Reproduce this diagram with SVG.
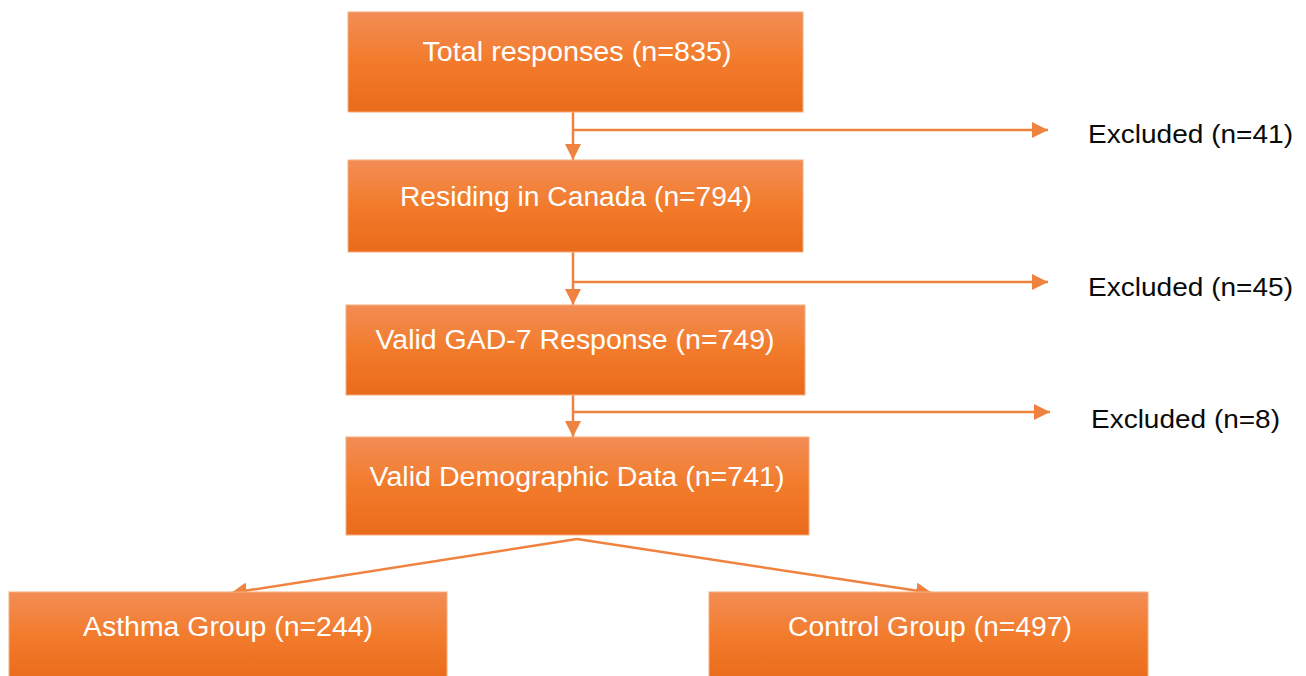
<svg xmlns="http://www.w3.org/2000/svg" width="1306" height="676" viewBox="0 0 1306 676">
  <defs>
    <linearGradient id="boxFill" x1="0" y1="0" x2="0" y2="1">
      <stop offset="0" stop-color="#f28d55"/>
      <stop offset="0.5" stop-color="#f27b2b"/>
      <stop offset="1" stop-color="#e96b1b"/>
    </linearGradient>
    <marker id="arrow" viewBox="0 0 16 16" refX="16" refY="8" markerWidth="16" markerHeight="16" markerUnits="userSpaceOnUse" orient="auto">
      <path d="M0,0 L16,8 L0,16 Z" fill="#f0823f"/>
    </marker>
  </defs>
  <style>
    .box { fill: url(#boxFill); stroke: #f6ad80; stroke-width: 1; }
    .label { font-family: "Liberation Sans", Arial, sans-serif; font-size: 27px; fill: #ffffff; text-anchor: middle; }
    .side { font-family: "Liberation Sans", Arial, sans-serif; font-size: 26px; fill: #0a0a0a; }
    .link { fill: none; stroke: #f0823f; stroke-width: 2.5; }
  </style>
  <rect width="1306" height="676" fill="#ffffff"/>

  <g id="connectors">
    <path class="link" d="M573,112 V160" marker-end="url(#arrow)"/>
    <path class="link" d="M573,130 H1048" marker-end="url(#arrow)"/>
    <path class="link" d="M573,252 V305" marker-end="url(#arrow)"/>
    <path class="link" d="M573,282 H1048" marker-end="url(#arrow)"/>
    <path class="link" d="M573,395 V437" marker-end="url(#arrow)"/>
    <path class="link" d="M573,412 H1050" marker-end="url(#arrow)"/>
    <path class="link" d="M577,539 L231,593" marker-end="url(#arrow)"/>
    <path class="link" d="M577,539 L932,593" marker-end="url(#arrow)"/>
  </g>

  <g id="total">
    <rect class="box" x="348" y="12" width="455" height="100"/>
    <text class="label" x="577" y="61" textLength="309" lengthAdjust="spacingAndGlyphs">Total responses (n=835)</text>
  </g>
  <g id="canada">
    <rect class="box" x="348" y="160" width="455" height="92"/>
    <text class="label" x="576" y="206" textLength="352" lengthAdjust="spacingAndGlyphs">Residing in Canada (n=794)</text>
  </g>
  <g id="gad7">
    <rect class="box" x="346" y="305" width="459" height="90"/>
    <text class="label" x="575" y="349" textLength="399" lengthAdjust="spacingAndGlyphs">Valid GAD-7 Response (n=749)</text>
  </g>
  <g id="demographic">
    <rect class="box" x="346" y="437" width="463" height="98"/>
    <text class="label" x="577" y="486" textLength="415" lengthAdjust="spacingAndGlyphs">Valid Demographic Data (n=741)</text>
  </g>
  <g id="asthma">
    <rect class="box" x="9" y="592" width="438" height="90"/>
    <text class="label" x="228" y="636" textLength="290" lengthAdjust="spacingAndGlyphs">Asthma Group (n=244)</text>
  </g>
  <g id="control">
    <rect class="box" x="709" y="592" width="439" height="90"/>
    <text class="label" x="930" y="636" textLength="284" lengthAdjust="spacingAndGlyphs">Control Group (n=497)</text>
  </g>

  <g id="excluded-1">
    <text class="side" x="1088" y="143" textLength="205" lengthAdjust="spacingAndGlyphs">Excluded (n=41)</text>
  </g>
  <g id="excluded-2">
    <text class="side" x="1088" y="296" textLength="205" lengthAdjust="spacingAndGlyphs">Excluded (n=45)</text>
  </g>
  <g id="excluded-3">
    <text class="side" x="1091" y="428" textLength="189" lengthAdjust="spacingAndGlyphs">Excluded (n=8)</text>
  </g>
</svg>
